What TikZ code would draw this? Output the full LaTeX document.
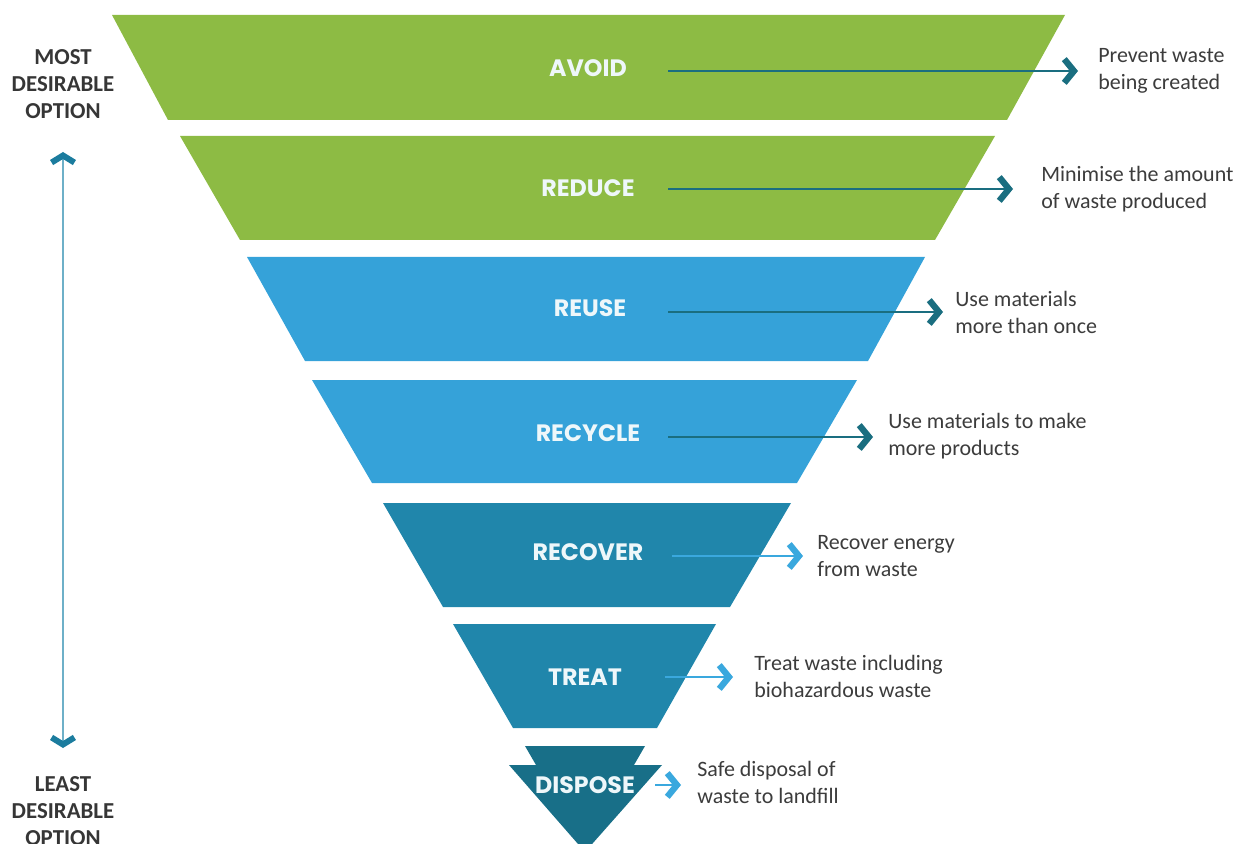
\documentclass[tikz,border=0pt]{standalone}
\usepackage{fontspec}
\setmainfont{Carlito}
\newfontfamily\bandefont{Poppins}
\usetikzlibrary{arrows.meta}

\definecolor{vert}{HTML}{8DBB44}
\definecolor{bleuclair}{HTML}{35A2D9}
\definecolor{bleumoyen}{HTML}{2086AB}
\definecolor{bleufonce}{HTML}{186F88}
\definecolor{flechefoncee}{HTML}{1A6E80}
\definecolor{flecheclaire}{HTML}{3AA8DE}
\definecolor{traitgauche}{HTML}{6EB0C8}
\definecolor{pointegauche}{HTML}{1B7C9E}
\definecolor{gristexte}{HTML}{3C3C3C}
\definecolor{blanccasse}{HTML}{EEF7FA}

\begin{document}
\begin{tikzpicture}[x=0.02cm,y=-0.02cm]

% définition des styles
\tikzstyle{etiquette}=[text=blanccasse,font=\bandefont\bfseries\fontsize{13.5}{15}\selectfont]
\tikzstyle{texte}=[anchor=west,align=left,inner sep=0pt,text=gristexte,font=\fontsize{12.5}{15.4}\selectfont]
\tikzstyle{gauche}=[align=center,inner sep=0pt,text=gristexte!90!black,font=\bfseries\fontsize{13}{15.4}\selectfont]
\tikzstyle{fleche}=[-{Straight Barb[length=5.5pt,width=13.5pt,line width=3.6pt]},line width=1.1pt,draw=flechefoncee]
\tikzstyle{flecheclaire}=[fleche,draw=flecheclaire]
\tikzstyle{doublefleche}=[{Straight Barb[length=4pt,width=13pt,line width=3.4pt,color=pointegauche]}-{Straight Barb[length=4pt,width=13pt,line width=3.4pt,color=pointegauche]},line width=1.7pt,draw=traitgauche]

\useasboundingbox (0,0) rectangle (1256,844);
\clip (0,0) rectangle (1256,844);

% les bandes
\fill[vert] (112,15) -- (1065,15) -- (1007,120) -- (168,120) -- cycle;
\fill[vert] (180,136) -- (995,136) -- (935,240) -- (240,240) -- cycle;
\fill[bleuclair] (247,257) -- (925,257) -- (868,361) -- (305,361) -- cycle;
\fill[bleuclair] (312,380) -- (857,380) -- (797,483) -- (372,483) -- cycle;
\fill[bleumoyen] (383,503) -- (791,503) -- (730,607) -- (443,607) -- cycle;
\fill[bleumoyen] (453,624) -- (716,624) -- (657,728) -- (513,728) -- cycle;
\fill[bleufonce] (525,746) -- (645,746) -- (634,765) -- (662,765) -- (585,852)
  -- (509,765) -- (536,765) -- cycle;

% les étiquettes
\node[etiquette] (avoid) at (588,68) {AVOID};
\node[etiquette] (reduce) at (588,188) {REDUCE};
\node[etiquette] (reuse) at (590,308) {REUSE};
\node[etiquette] (recycle) at (588,433) {RECYCLE};
\node[etiquette] (recover) at (588,552) {RECOVER};
\node[etiquette] (treat) at (585,677) {TREAT};
\node[etiquette] (dispose) at (585,785) {DISPOSE};

% les textes
\node[texte] (t1) at (1098,71) {Prevent waste\\being created};
\node[texte] (t2) at (1041,189) {Minimise the amount\\of waste produced};
\node[texte] (t3) at (955,312) {Use materials\\more than once};
\node[texte] (t4) at (888,436) {Use materials to make\\more products};
\node[texte] (t5) at (817,556) {Recover energy\\from waste};
\node[texte] (t6) at (754,676) {Treat waste including\\biohazardous waste};
\node[texte] (t7) at (697,782) {Safe disposal of\\waste to landfill};

% les flèches
\coordinate (d1) at (668,71);
\coordinate (f1) at (1078,71);
\coordinate (d2) at (668,189);
\coordinate (f2) at (1013,189);
\coordinate (d3) at (668,312);
\coordinate (f3) at (943,312);
\coordinate (d4) at (668,437);
\coordinate (f4) at (873,437);
\coordinate (d5) at (672,556);
\coordinate (f5) at (803,556);
\coordinate (d6) at (665,677);
\coordinate (f6) at (733,677);
\coordinate (d7) at (655,785);
\coordinate (f7) at (681,785);
\draw[fleche] (d1) -- (f1);
\draw[fleche] (d2) -- (f2);
\draw[fleche] (d3) -- (f3);
\draw[fleche] (d4) -- (f4);
\draw[flecheclaire] (d5) -- (f5);
\draw[flecheclaire] (d6) -- (f6);
\draw[flecheclaire] (d7) -- (f7);

% à gauche
\node[gauche] (plus) at (63,84) {MOST\\DESIRABLE\\OPTION};
\node[gauche] (moins) at (63,811) {LEAST\\DESIRABLE\\OPTION};
\coordinate (haut) at (63,152);
\coordinate (bas) at (63,748);
\draw[doublefleche] (haut) -- (bas);

\end{tikzpicture}
\end{document}
